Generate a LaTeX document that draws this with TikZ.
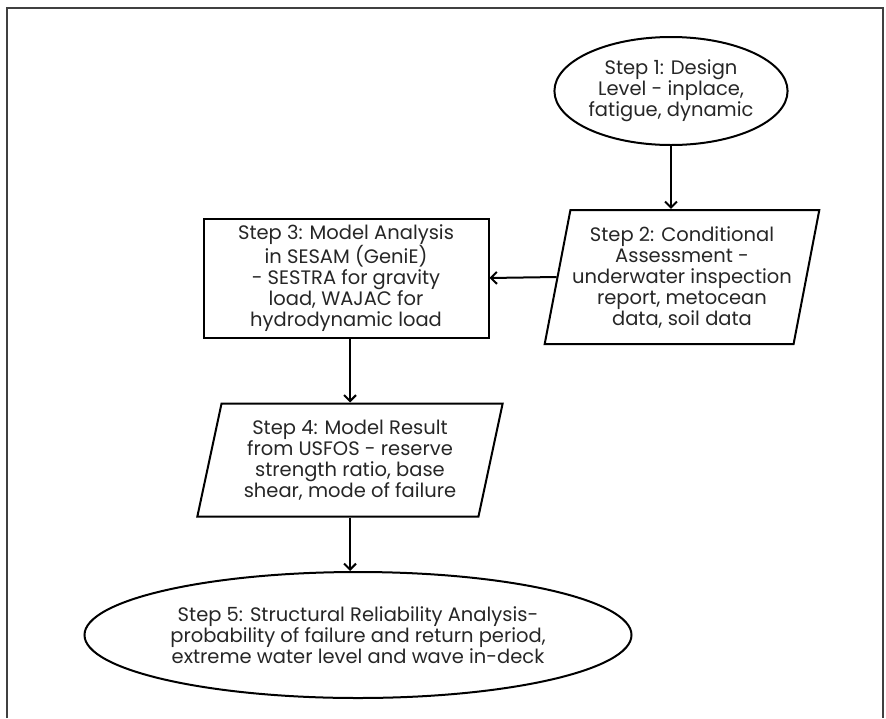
\documentclass[tikz,border=0pt]{standalone}
\usepackage{fontspec}
\setmainfont{Poppins}
\usepackage{tikz}
\usetikzlibrary{arrows.meta, positioning, shapes.geometric}

\begin{document}
\begin{tikzpicture}[
  x=1pt, y=-1pt,
  every node/.style={font=\fontsize{19.5}{21}\selectfont, text=black!85, align=center},
  oval/.style={draw, ellipse, line width=2pt, inner sep=0pt},
  para/.style={draw, trapezium, trapezium left angle=76, trapezium right angle=104,
    trapezium stretches=true, line width=2pt, inner sep=0pt},
  box/.style={draw, rectangle, line width=2pt, inner sep=0pt},
  arr/.style={-{Straight Barb[length=6pt, width=12pt, line width=2pt]}, line width=2pt}
]
  \useasboundingbox (0,0) rectangle (886,718);
  % outer frame, open at the bottom
  \draw[line width=1.6pt, black!75] (7,718) -- (7,8) -- (883,8) -- (883,718);

  \node[oval, minimum width=232pt, minimum height=108pt] (s1) at (671,91)
    {Step 1: Design\\Level - inplace,\\fatigue, dynamic};
  \node[para, minimum width=275pt, minimum height=134pt] (s2) at (682,277)
    {Step 2: Conditional\\Assessment -\\underwater inspection\\report, metocean\\data, soil data};
  \node[box, minimum width=285pt, minimum height=119pt] (s3) at (346,278)
    {Step 3: Model Analysis\\in SESAM (GeniE)\\- SESTRA for gravity\\load, WAJAC for\\hydrodynamic load};
  \node[para, minimum width=306pt, minimum height=113pt] (s4) at (350,460)
    {Step 4: Model Result\\from USFOS - reserve\\strength ratio, base\\shear, mode of failure};
  \node[oval, minimum width=547pt, minimum height=126pt] (s5) at (358,635)
    {Step 5: Structural Reliability Analysis-\\probability of failure and return period,\\extreme water level and wave in-deck};

  \draw[arr] (s1.south) -- (s1.south |- s2.north);
  \draw[arr] (s2.west) -- (s3.east);
  \draw[arr] (s3.south -| s4.north) -- (s4.north);
  \draw[arr] (s4.south) -- (s4.south |- s5.north);
\end{tikzpicture}
\end{document}
